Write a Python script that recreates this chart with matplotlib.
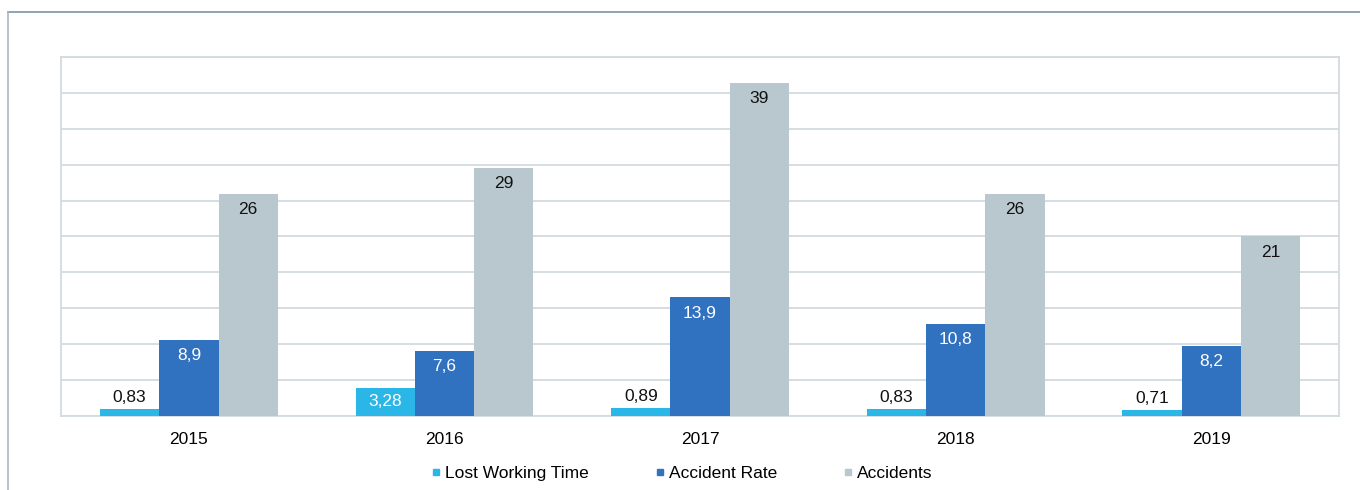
import numpy as np
import matplotlib
matplotlib.use("Agg")
import matplotlib.pyplot as plt
from matplotlib.lines import Line2D

years = ["2015", "2016", "2017", "2018", "2019"]
lost_time = [0.83, 3.28, 0.89, 0.83, 0.71]
accident_rate = [8.9, 7.6, 13.9, 10.8, 8.2]
accidents = [26, 29, 39, 26, 21]
series_names = ["Lost Working Time", "Accident Rate", "Accidents"]

c_light = "#2bb6e8"
c_blue = "#3172c0"
c_gray = "#b9c7cf"
fs = 12.5

plt.rcParams['font.family'] = ['Liberation Sans', 'DejaVu Sans']

def fmt(v):
    s = ("%g" % v)
    return s.replace(".", ",")

fig = plt.figure(figsize=(13.6, 4.9), dpi=100)
ax = fig.add_axes([0.0449, 0.151, 0.9397, 0.7327])

x = np.arange(len(years))
w = 0.232
b1 = ax.bar(x - w, lost_time, w, color=c_light, zorder=3)
b2 = ax.bar(x, accident_rate, w, color=c_blue, zorder=3)
b3 = ax.bar(x + w, accidents, w, color=c_gray, zorder=3)

ax.set_xlim(-0.5, len(years) - 0.5)
ax.set_ylim(0, 42)
ax.set_yticks(np.linspace(0, 42, 11))
ax.tick_params(axis="y", left=False, labelleft=False)
ax.tick_params(axis="x", bottom=False, labelsize=fs, pad=8)
ax.set_xticks(x)
ax.set_xticklabels(years)
ax.grid(axis="y", color="#d3dbdf", linewidth=1.3, zorder=0)
for sp in ax.spines.values():
    sp.set_color("#d3dbdf")
    sp.set_linewidth(1.3)

for r, v in zip(b1, lost_time):
    cx = r.get_x() + r.get_width() / 2
    if v > 2:
        # tall enough: label sits inside the bar
        ax.text(cx, v / 2, fmt(v), ha="center", va="center",
                fontsize=fs, color="white", zorder=4)
    else:
        ax.annotate(fmt(v), (cx, v), xytext=(0, 3),
                    textcoords="offset points", ha="center", va="bottom",
                    fontsize=fs, color="#111111", zorder=4)
for r, v in zip(b2, accident_rate):
    ax.annotate(fmt(v), (r.get_x() + r.get_width() / 2, v), xytext=(0, -6),
                textcoords="offset points", ha="center", va="top",
                fontsize=fs, color="white", zorder=4)
for r, v in zip(b3, accidents):
    ax.annotate(fmt(v), (r.get_x() + r.get_width() / 2, v), xytext=(0, -6),
                textcoords="offset points", ha="center", va="top",
                fontsize=fs, color="#111111", zorder=4)

handles = [Line2D([], [], marker="s", linestyle="", markersize=5, color=c)
           for c in (c_light, c_blue, c_gray)]
fig.legend(handles, series_names, loc="center", bbox_to_anchor=(0.5, 0.033),
           ncol=3, frameon=False, fontsize=fs, handletextpad=0.0,
           columnspacing=3.6, handlelength=1.0)

# outer frame lines
fig.add_artist(Line2D([8 / 1360, 1], [1 - 12 / 490, 1 - 12 / 490],
                      transform=fig.transFigure, color="#7d93a3", linewidth=1.2))
fig.add_artist(Line2D([8 / 1360, 8 / 1360], [0, 1 - 12 / 490],
                      transform=fig.transFigure, color="#a9b9c4", linewidth=1.2))

fig.savefig("out.png", dpi=100)
